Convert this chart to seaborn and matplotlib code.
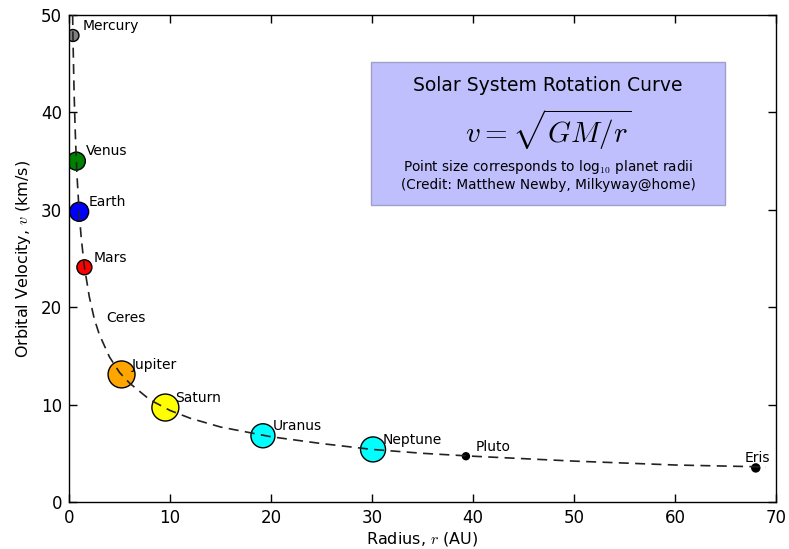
import matplotlib
matplotlib.use('Agg')
import matplotlib.pyplot as plt
import seaborn as sns
import pandas as pd
from matplotlib.patches import Rectangle

# planet data
names = ['Mercury', 'Venus', 'Earth', 'Mars', 'Ceres', 'Jupiter',
         'Saturn', 'Uranus', 'Neptune', 'Pluto', 'Eris']
radius_au = [0.39, 0.72, 1.0, 1.52, 2.77, 5.2, 9.54, 19.2, 30.1, 39.3, 68.0]
velocity = [47.9, 35.0, 29.8, 24.1, 17.9, 13.1, 9.7, 6.8, 5.4, 4.7, 3.5]
marker_diam = [8.6, 13.0, 13.7, 10.8, 0.0, 19.4, 19.4, 17.3, 18.0, 5.0, 5.8]
colors = ['gray', 'green', 'blue', 'red', 'white', 'orange',
          'yellow', 'cyan', 'cyan', 'black', 'black']

# model curve v = sqrt(GM/r)
curve_r = [0.355, 0.4, 0.5, 0.6, 0.7, 0.8, 1.0, 1.2, 1.5, 2.0, 2.5, 3.0, 4.0,
           5.0, 6.0, 8.0, 10.0, 12.0, 15.0, 20.0, 25.0, 30.0, 35.0, 40.0,
           50.0, 60.0, 69.0]
curve_v = [50.0, 47.1, 42.1, 38.5, 35.6, 33.3, 29.8, 27.2, 24.3, 21.1, 18.8,
           17.2, 14.9, 13.3, 12.2, 10.5, 9.4, 8.6, 7.7, 6.7, 6.0, 5.4, 5.0,
           4.7, 4.2, 3.8, 3.6]

df = pd.DataFrame({'name': names, 'r': radius_au, 'v': velocity})
planets = df[df['name'] != 'Ceres']

sns.set_style('ticks')
plt.rcParams['font.family'] = ['DejaVu Sans']
plt.rcParams['mathtext.fontset'] = 'cm'
for k in ['text.color', 'axes.labelcolor', 'xtick.color', 'ytick.color']:
    plt.rcParams[k] = 'black'

fig = plt.figure(figsize=(7.89, 5.49), dpi=100)
ax = fig.add_axes([0.0875, 0.0856, 0.896, 0.887])

sns.scatterplot(data=planets, x='r', y='v', hue='name',
                palette=dict(zip(names, colors)),
                size='name', sizes={n: d ** 2 for n, d in zip(names, marker_diam)},
                edgecolor='black', linewidth=1, legend=False, ax=ax, zorder=2)
sns.lineplot(x=curve_r, y=curve_v, color='#222222', lw=1.2, sort=False,
             linestyle=(0, (6, 3.8)), ax=ax, zorder=3)

for n, r, v in zip(names, radius_au, velocity):
    off = (-8, 7) if n == 'Eris' else (7, 7)
    ax.annotate(n, (r, v), xytext=off, textcoords='offset points',
                fontsize=10, va='center', ha='left', zorder=4)

ax.set_xlim(0, 70)
ax.set_ylim(0, 50)
ax.set_xticks(range(0, 71, 10))
ax.set_yticks(range(0, 51, 10))
ax.tick_params(direction='in', top=True, right=True, length=6, width=1,
               labelsize=12, pad=5)
for s in ax.spines.values():
    s.set_linewidth(1)
    s.set_color('black')
ax.set_xlabel('Radius, $r$ (AU)', fontsize=11.5, labelpad=2)
ax.set_ylabel('Orbital Velocity, $v$ (km/s)', fontsize=11.5, labelpad=6)

# info box
ax.add_patch(Rectangle((0.427, 0.610), 0.501, 0.293, transform=ax.transAxes,
                       facecolor='#bfbffd', edgecolor='#a0a0c8', lw=1, zorder=1))
ax.text(0.6775, 0.856, 'Solar System Rotation Curve', transform=ax.transAxes,
        ha='center', va='center', fontsize=13.5)
ax.text(0.6775, 0.764, r'$v = \sqrt{GM/r}$', transform=ax.transAxes,
        ha='center', va='center', fontsize=21)
ax.text(0.6775, 0.688, r'Point size corresponds to log$_{10}$ planet radii',
        transform=ax.transAxes, ha='center', va='center', fontsize=9.8)
ax.text(0.6775, 0.651, '(Credit: Matthew Newby, Milkyway@home)',
        transform=ax.transAxes, ha='center', va='center', fontsize=9.8)

fig.savefig('out.png', dpi=100)
